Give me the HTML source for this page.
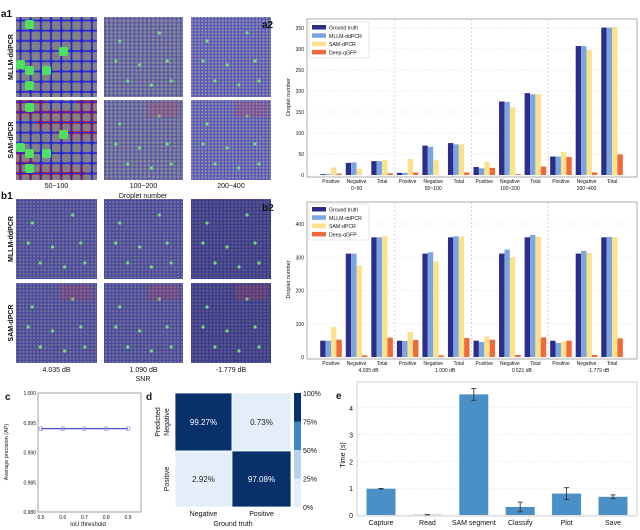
<!DOCTYPE html>
<html><head><meta charset="utf-8"><style>
html,body{margin:0;padding:0;background:#fff;}
svg{display:block;font-family:"Liberation Sans",sans-serif;}
</style></head><body>
<svg id="fig" width="640" height="530" viewBox="0 0 640 530">
<defs>
<pattern id="bigcells" width="10.2" height="10.2" patternUnits="userSpaceOnUse"><rect width="10.2" height="10.2" fill="#2424d8"/><rect x="0.9" y="0.9" width="8.6" height="8.6" rx="1.8" fill="#808086"/></pattern>
<pattern id="bigcellsR" width="10.2" height="10.2" patternUnits="userSpaceOnUse"><rect width="10.2" height="10.2" fill="#2424d8"/><rect x="0.6" y="0.6" width="9" height="9" rx="1.8" fill="#d02020"/><rect x="1.3" y="1.3" width="7.6" height="7.6" rx="1.6" fill="#808086"/></pattern>
<pattern id="small" width="4.2" height="3.8" patternUnits="userSpaceOnUse"><rect width="4.2" height="3.8" fill="#5858a8"/><circle cx="2.1" cy="1.9" r="1.5" fill="#8a8a98"/></pattern>
<pattern id="smallb" width="3.4" height="3.2" patternUnits="userSpaceOnUse"><rect width="3.4" height="3.2" fill="#5656b8"/><circle cx="1.7" cy="1.6" r="1.1" fill="#9898a8"/></pattern>
<pattern id="dark" width="3.6" height="3.4" patternUnits="userSpaceOnUse"><rect width="3.6" height="3.4" fill="#4a4aa0"/><circle cx="1.8" cy="1.7" r="1.1" fill="#7a7a90"/></pattern>
<pattern id="darker" width="3.6" height="3.4" patternUnits="userSpaceOnUse"><rect width="3.6" height="3.4" fill="#3c3c90"/><circle cx="1.8" cy="1.7" r="1.1" fill="#606080"/></pattern>
</defs>
<g id="left"></g>
<g id="a2"></g>
<g id="b2"></g>
<g id="c"></g>
<g id="d"></g>
<g id="e"></g>
</svg>
<script>
const seriesNames=["Ground truth","MLLM-ddPCR","SAM-dPCR","Deep-qGFP"];
const seriesColors=["#2f2d8a","#7aa6e0","#fce08c","#f0693a"];
const catLabels=["Positive","Negative","Total"];
const a2Groups=["0~50","50~100","100~200","200~400"];
const a2Ground=[2,29,33,5,70,76,19,175,195,44,307,351];
const a2Mllm=[2,30,33,5,67,73,16,174,192,44,307,351];
const a2Sam=[18,15,35,38,35,73,31,161,193,55,298,353];
const a2Deep=[3,0,4,6,0,6,17,2,20,43,6,49];
const a2Ticks=[0,50,100,150,200,250,300,350];
const b2Groups=["4.035 dB","1.090 dB","0.521 dB","-1.779 dB"];
const b2Ground=[49,311,360,49,311,360,49,311,360,49,311,360];
const b2Mllm=[49,311,360,48,315,363,45,323,367,42,319,361];
const b2Sam=[90,275,364,75,287,362,62,300,362,47,313,360];
const b2Deep=[52,5,58,51,5,57,52,6,59,49,6,56];
const b2Ticks=[0,100,200,300,400];
const cX=[0.5,0.6,0.7,0.8,0.9];
const cY=[0.994,0.994,0.994,0.994,0.994];
const cYTicks=[0.980,0.985,0.990,0.995,1.000];
const dVals=[[99.27,0.73],[2.92,97.08]];
const dLabels=["Negative","Positive"];
const eCats=["Capture","Read","SAM segment","Classify","Plot","Save"];
const eVals=[0.98,0.01,4.5,0.3,0.8,0.68];
const eErr=[0.01,0.0,0.22,0.18,0.22,0.07];
const eTicks=[0,1,2,3,4];

const NS="http://www.w3.org/2000/svg";
function mk(parent,tag,attrs,text){const e=document.createElementNS(NS,tag);for(const k in attrs)e.setAttribute(k,attrs[k]);if(text!==undefined)e.textContent=text;parent.appendChild(e);return e;}

// ---------- left image panels ----------
const L=document.getElementById('left');
const cols=[[16,97],[104,183],[191,271]];
const rowsA=[[17,97],[100,180]], rowsB=[[199,279],[283,363]];
const fillsA=[["url(#bigcells)","url(#small)","url(#smallb)"],["url(#bigcells)","url(#small)","url(#smallb)"]];
const fillsB=[["url(#dark)","url(#dark)","url(#darker)"],["url(#dark)","url(#dark)","url(#darker)"]];
function tiles(rows,fills,prefix){
 rows.forEach((r,ri)=>cols.forEach((c,ci)=>{
  const t=mk(L,'rect',{x:c[0],y:r[0],width:c[1]-c[0],height:r[1]-r[0],fill:fills[ri][ci]});
  
  
  const pts=[[0.2,0.3],[0.45,0.6],[0.7,0.2],[0.3,0.8],[0.8,0.55],[0.6,0.85],[0.15,0.55],[0.85,0.8]];
  if(!(prefix==='a1'&&ci===0)) pts.forEach(p=>mk(L,'circle',{cx:c[0]+p[0]*(c[1]-c[0]),cy:r[0]+p[1]*(r[1]-r[0]),r:1.6,fill:'#6ee07a'}));
  if(ri===1&&!(prefix==='a1'&&ci===0)) mk(L,'rect',{x:c[0]+(c[1]-c[0])*0.55,y:r[0]+2,width:(c[1]-c[0])*0.4,height:15,fill:'#c04050',opacity:0.25});
 }));
}
tiles(rowsA,fillsA,'a1');tiles(rowsB,fillsB,'b1');
// red-outlined cells in SAM a1 col1
[[16,100,30,20],[36,110,40,20],[16,150,20,30],[56,130,41,10],[36,165,50,15],[76,100,21,30]].forEach(b=>mk(L,'rect',{x:b[0],y:b[1],width:b[2],height:b[3],fill:'url(#bigcellsR)'}));
// big green cells in a1 col1
[[29,24],[63,51],[20,64],[29,70],[46,70],[29,85]].forEach(p=>{mk(L,'rect',{x:p[0]-4,y:p[1]-4,width:9,height:9,rx:2,fill:'#4ee060'});mk(L,'rect',{x:p[0]-4,y:p[1]-4+83,width:9,height:9,rx:2,fill:'#4ee060'});});
function txt(p,x,y,s,size,opts){const o=Object.assign({x:x,y:y,'font-size':size,'text-anchor':'middle',fill:'#111'},opts||{});return mk(p,'text',o,s);}
let t;
t=txt(L,8,17,"a1",10,{'text-anchor':'start','font-weight':'bold','x':1});
t=txt(L,8,199,"b1",10,{'text-anchor':'start','font-weight':'bold','x':1});
[["MLLM-ddPCR",57],["SAM-dPCR",140],["MLLM-ddPCR",239],["SAM-dPCR",323]].forEach(r=>{const e=txt(L,0,0,r[0],7,{'font-weight':'bold',transform:'translate(13,'+r[1]+') rotate(-90)'});});
["50~100","100~200","200~400"].forEach((s,i)=>txt(L,(cols[i][0]+cols[i][1])/2,188,s,7));
txt(L,143,198,"Droplet number",7);
["4.035 dB","1.090 dB","-1.779 dB"].forEach((s,i)=>txt(L,(cols[i][0]+cols[i][1])/2,372,s,7));
txt(L,143,381,"SNR",7);

// ---------- grouped bar charts ----------
function barChart(gid,label,top,zero,yMax,scaleTop,ticks,groups,series,legY){
 const G=document.getElementById(gid);
 const x0=307,x1=637;
 const ys=v=>zero-(v/yMax)*(zero-scaleTop);
 const xs=i=>331+i*25.55;
 mk(G,'rect',{x:x0,y:top,width:x1-x0,height:zero+2-top,fill:'#fff',stroke:'#999','stroke-width':0.8});
 ticks.forEach(v=>{mk(G,'line',{x1:x0,x2:x1,y1:ys(v),y2:ys(v),stroke:'#e4e4e4','stroke-width':0.5,'stroke-dasharray':'2,1'});txt(G,x0-3,ys(v)+2,String(v),5,{'text-anchor':'end'});});
 [2.5,5.5,8.5].forEach(i=>mk(G,'line',{x1:xs(i),x2:xs(i),y1:top,y2:zero+2,stroke:'#bbb','stroke-width':0.6,'stroke-dasharray':'2,2'}));
 const bw=5.4;
 series.forEach((arr,si)=>arr.forEach((v,i)=>{
  const r=mk(G,'rect',{x:xs(i)+(si-2)*bw,y:ys(v),width:bw,height:Math.max(0,zero-ys(v)),fill:seriesColors[si]});
  
  
 }));
 for(let i=0;i<12;i++) txt(G,xs(i),zero+8,catLabels[i%3],5);
 groups.forEach((g,gi)=>txt(G,xs(gi*3+1)+(gid==='a2'?0:12),zero+15,g,5));
 const yl=txt(G,0,0,"Droplet number",5.5,{transform:'translate(290,'+((top+zero)/2)+') rotate(-90)'});
 
 const lg=mk(G,'g',{});
 
 mk(lg,'rect',{x:309,y:legY-5,width:60,height:36,fill:'#fff',stroke:'#ccc','stroke-width':0.5,rx:1});
 seriesNames.forEach((n,si)=>{mk(lg,'rect',{x:312,y:legY-2+si*8.3,width:14,height:4.5,fill:seriesColors[si]});txt(lg,329,legY+2.5+si*8.3,n,5.2,{'text-anchor':'start'});});
 const pl=txt(G,262,top+9,label,10,{'font-weight':'bold','text-anchor':'start'});
 
}
barChart('a2','a2',19,175,350,28,a2Ticks,a2Groups,[a2Ground,a2Mllm,a2Sam,a2Deep],27);
barChart('b2','b2',202,357,400,224,b2Ticks,b2Groups,[b2Ground,b2Mllm,b2Sam,b2Deep],209);

// ---------- panel c ----------
(function(){
 const G=document.getElementById('c');
 const x0=38,x1=141,y0=393,y1=512;
 const xs=v=>41+(v-0.5)/0.4*(128-41);
 const ys=v=>y1-(v-0.98)/0.02*(y1-y0);
 mk(G,'rect',{x:x0,y:y0,width:x1-x0,height:y1-y0,fill:'#fff',stroke:'#777','stroke-width':0.7});
 cYTicks.forEach(v=>txt(G,x0-2,ys(v)+2,v.toFixed(3),5,{'text-anchor':'end'}));
 cX.forEach(v=>txt(G,xs(v),y1+7,v.toFixed(1),5));
 let d=cX.map((v,i)=>(i?'L':'M')+xs(v)+','+ys(cY[i])).join(' ');
 const ln=mk(G,'path',{d:d,stroke:'#3a3ac8','stroke-width':1.2,fill:'none'});
 
 cX.forEach((v,i)=>{const p=mk(G,'circle',{cx:xs(v),cy:ys(cY[i]),r:2,fill:'none',stroke:'#8080e0','stroke-width':0.7});});
 txt(G,88,526,"IoU threshold",6);
 txt(G,0,0,"Average precision (AP)",5.5,{transform:'translate(8,452) rotate(-90)'});
 const pl=txt(G,5,400,"c",10,{'font-weight':'bold','text-anchor':'start'});
})();

// ---------- panel d ----------
(function(){
 const G=document.getElementById('d');
 const x0=175,xm=232,x1=291,y0=393,ym=451,y1=507;
 const col=v=>v>75?'#08306b':v>50?'#3f86c1':v>25?'#b5d4ec':'#e3eef9';
 const xsE=[[x0,xm],[xm,x1]],ysE=[[y0,ym],[ym,y1]];
 dVals.forEach((row,ri)=>row.forEach((v,ci)=>{
  const r=mk(G,'rect',{x:xsE[ci][0],y:ysE[ri][0],width:xsE[ci][1]-xsE[ci][0],height:ysE[ri][1]-ysE[ri][0],fill:col(v),stroke:'#fff','stroke-width':0.8});
  
  txt(G,(xsE[ci][0]+xsE[ci][1])/2,(ysE[ri][0]+ysE[ri][1])/2+3,v.toFixed(2)+'%',8,{fill:v>50?'#fff':'#222'});
 }));
 const cb=mk(G,'g',{});
 const h=(y1-y0)/4;
 ['#08306b','#3f86c1','#b5d4ec','#e3eef9'].forEach((c,i)=>mk(cb,'rect',{x:294,y:y0+i*h,width:7,height:h,fill:c}));
 ['100%','75%','50%','25%','0%'].forEach((s,i)=>txt(cb,303,y0+i*h+3,s,7,{'text-anchor':'start'}));
 dLabels.forEach((s,i)=>{txt(G,(xsE[i][0]+xsE[i][1])/2,516,s,7);txt(G,0,0,s,7,{transform:'translate(169,'+((ysE[i][0]+ysE[i][1])/2)+') rotate(-90)'});});
 txt(G,233,526,"Ground truth",7);
 txt(G,0,0,"Predicted",7,{transform:'translate(160,422) rotate(-90)'});
 const pl=txt(G,146,400,"d",10,{'font-weight':'bold','text-anchor':'start'});
})();

// ---------- panel e ----------
(function(){
 const G=document.getElementById('e');
 const x0=357,x1=637,y0=382,y1=515;
 const ys=v=>y1-v*26.8;
 const xs=i=>381+i*46.4;
 mk(G,'rect',{x:x0,y:y0,width:x1-x0,height:y1-y0+1,fill:'#fff',stroke:'#bbb','stroke-width':0.7});
 eTicks.forEach(v=>{mk(G,'line',{x1:x0,x2:x1,y1:ys(v),y2:ys(v),stroke:'#e6e6e6','stroke-width':0.5,'stroke-dasharray':'2,1'});txt(G,x0-4,ys(v)+3,String(v),7,{'text-anchor':'end'});});
 eVals.forEach((v,i)=>{
  const r=mk(G,'rect',{x:xs(i)-14.5,y:ys(v),width:29,height:y1-ys(v),fill:'#4a8fc6'});
  
  const e=eErr[i];
  mk(G,'line',{x1:xs(i),x2:xs(i),y1:ys(v-e),y2:ys(v+e),stroke:'#333','stroke-width':0.9});
  [v-e,v+e].forEach(w=>mk(G,'line',{x1:xs(i)-2.5,x2:xs(i)+2.5,y1:ys(w),y2:ys(w),stroke:'#333','stroke-width':0.9}));
  txt(G,xs(i),525,eCats[i],7);
 });
 txt(G,0,0,"Time (s)",7,{transform:'translate(345,455) rotate(-90)'});
 const pl=txt(G,336,399,"e",10,{'font-weight':'bold','text-anchor':'start'});
})();
</script>
</body></html>
